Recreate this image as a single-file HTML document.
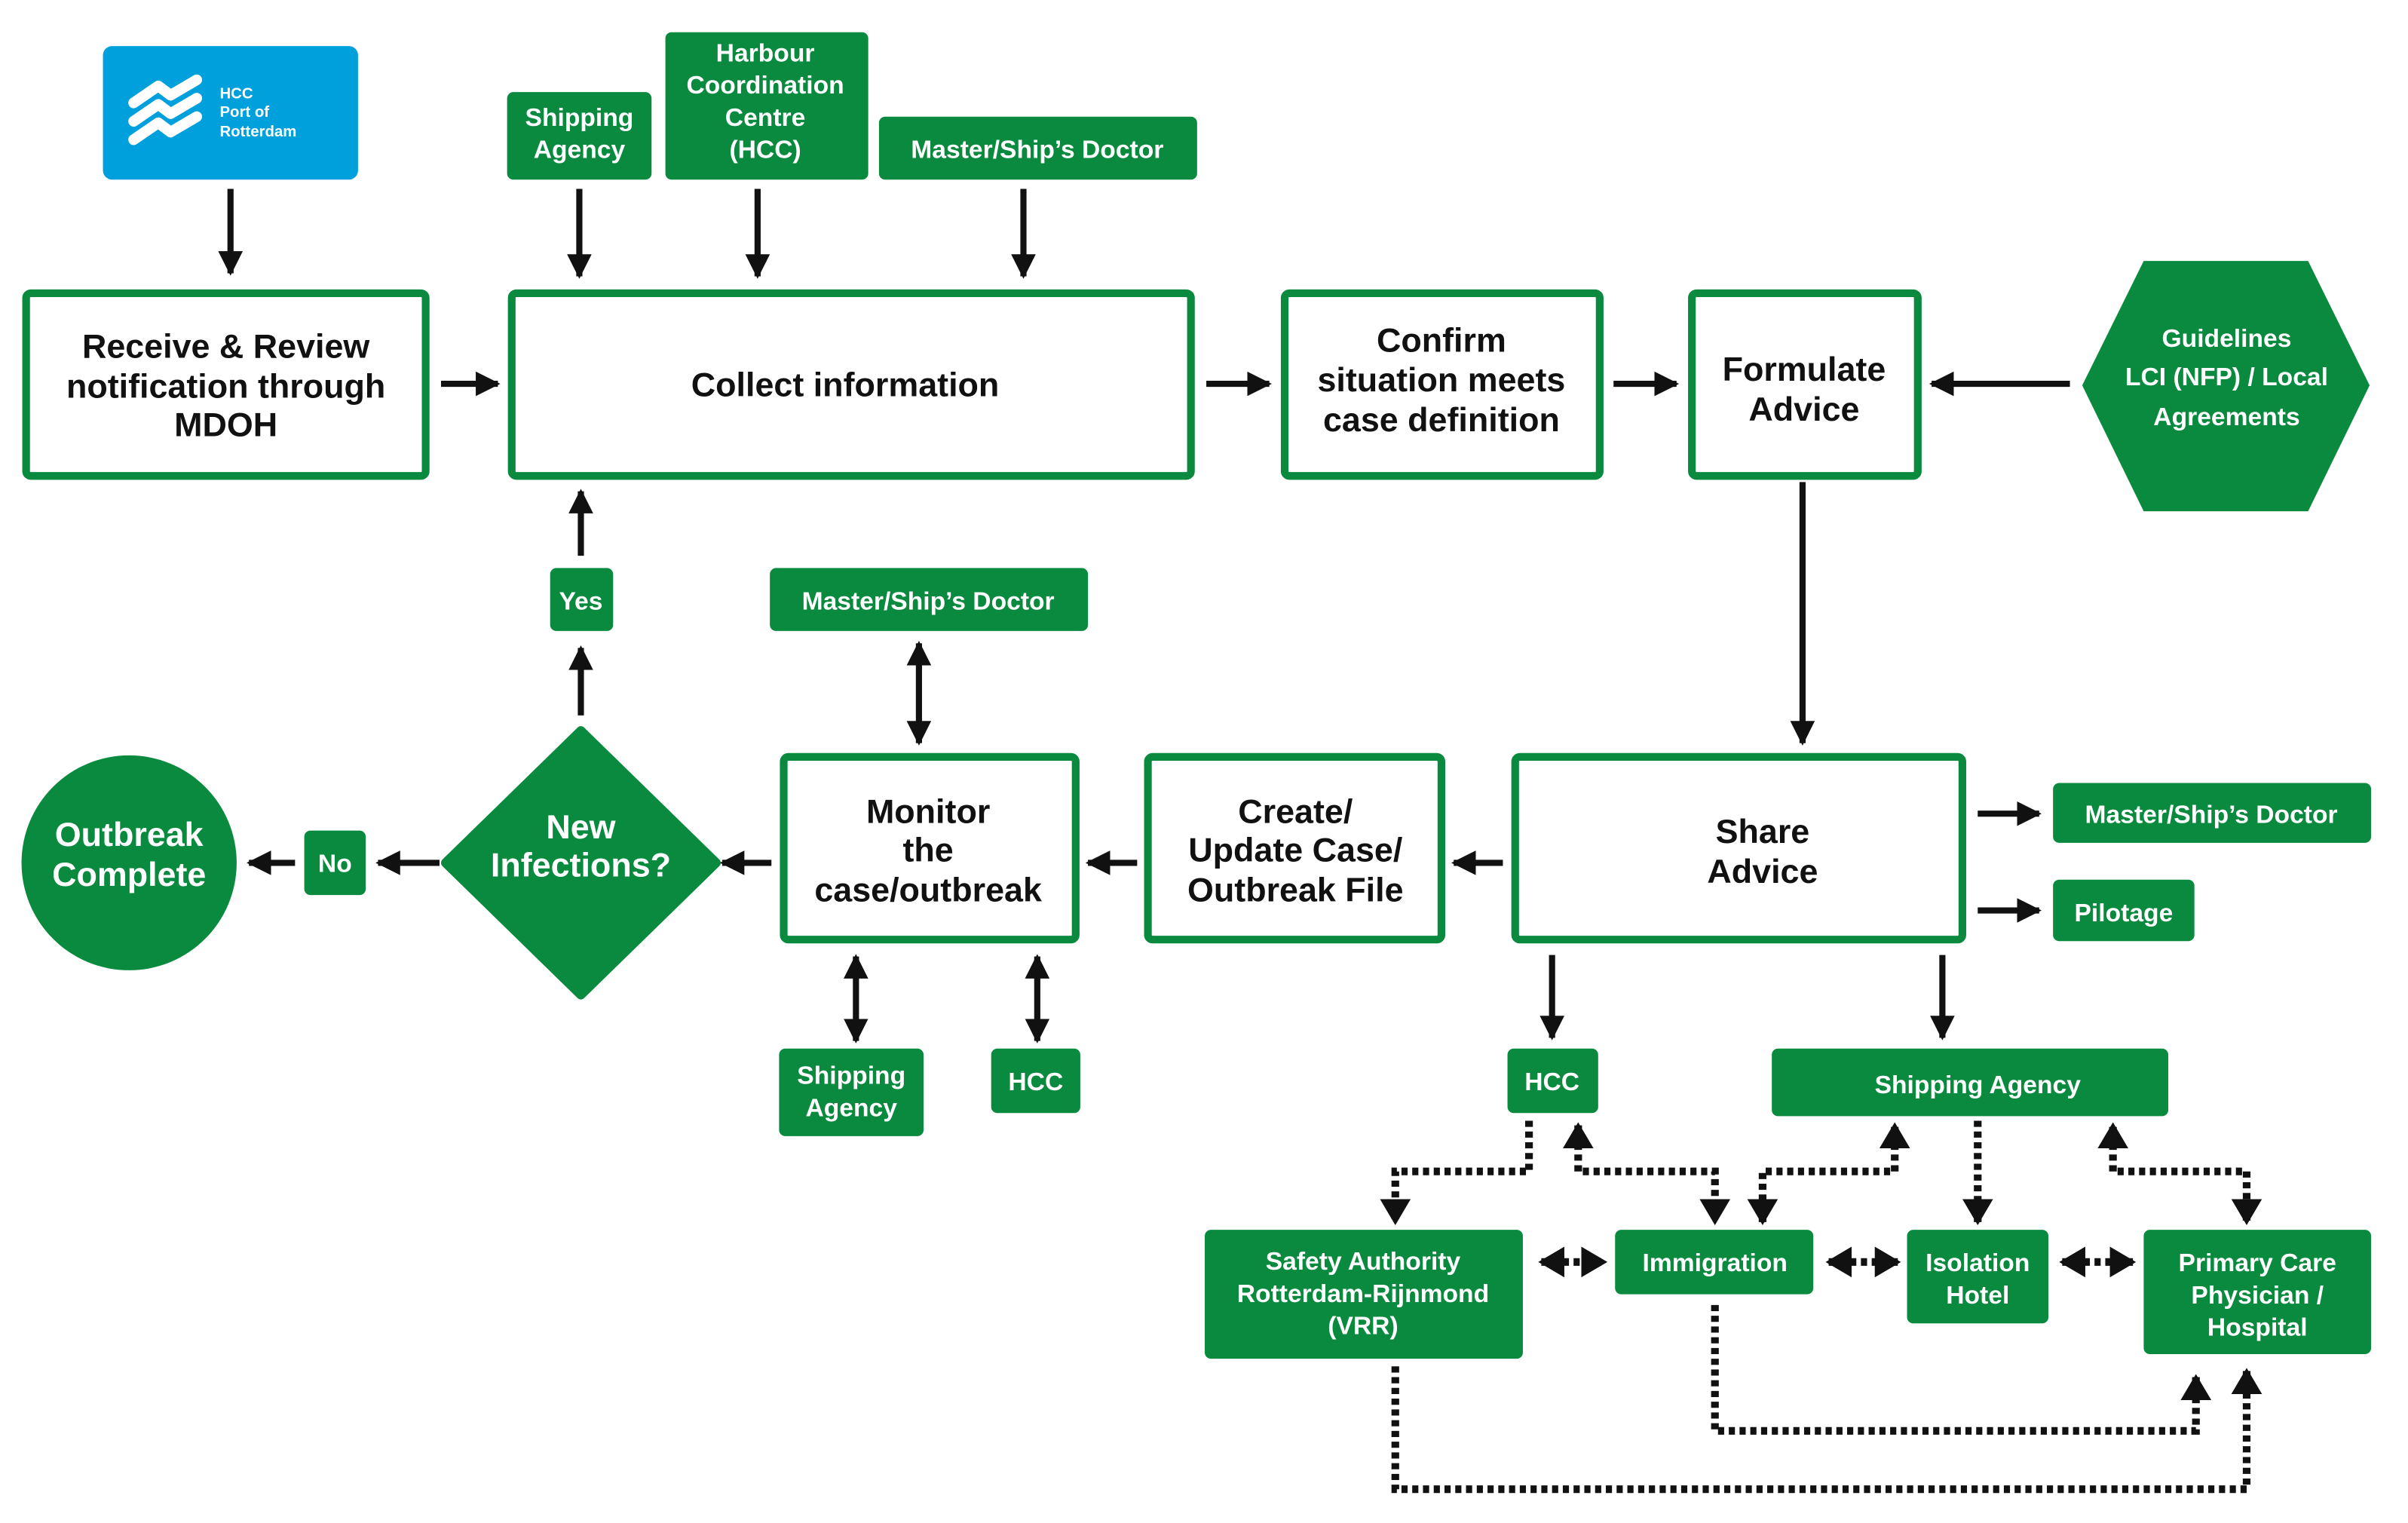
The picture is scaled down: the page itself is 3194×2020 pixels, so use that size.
<!DOCTYPE html>
<html><head><meta charset="utf-8"><style>
html,body{margin:0;padding:0;background:#fff}
svg{display:block}
text{font-family:"Liberation Sans",sans-serif;text-anchor:middle}
.b{font-weight:bold;fill:#111;font-size:22px}
.w{fill:#fff;font-size:16.5px;font-weight:bold}
</style></head><body>
<svg width="3194" height="2020" viewBox="0 0 1567 992" preserveAspectRatio="none" xmlns="http://www.w3.org/2000/svg">
<defs>
<marker id="a" markerWidth="4" markerHeight="4" refX="3.6" refY="2" orient="auto-start-reverse" markerUnits="strokeWidth"><path d="M0,0 L4,2 L0,4 z" fill="#111"/></marker>
<marker id="d" markerWidth="3.4" markerHeight="4" refX="3" refY="2" orient="auto-start-reverse" markerUnits="strokeWidth"><path d="M0,0 L3.4,2 L0,4 z" fill="#111"/></marker>
</defs>
<g fill="#fff" stroke="#0a8a3e" stroke-width="5">
<rect x="17" y="191" width="260" height="119" rx="3"/>
<rect x="333" y="191" width="442" height="119" rx="3"/>
<rect x="836" y="191" width="205" height="119" rx="3"/>
<rect x="1101" y="191" width="147" height="119" rx="3"/>
<rect x="986" y="493" width="291" height="119" rx="3"/>
<rect x="747" y="493" width="191" height="119" rx="3"/>
<rect x="510" y="493" width="190" height="119" rx="3"/>
</g>
<rect x="67" y="30" width="166" height="87" rx="6" fill="#00a0dc"/>
<g fill="none" stroke="#fff" stroke-width="7" stroke-linecap="round" stroke-linejoin="round">
<path d="M87,67 L103,56 L111,62 L128,52"/><path d="M87,79 L103,68 L111,74 L128,64"/><path d="M87,91 L103,80 L111,86 L128,76"/>
</g>
<g fill="#fff" font-size="10" font-weight="bold"><text x="143" y="64" style="text-anchor:start">HCC</text><text x="143" y="76" style="text-anchor:start">Port of</text><text x="143" y="89" style="text-anchor:start">Rotterdam</text></g>
<g fill="#0a8a3e">
<rect x="330" y="60" width="94" height="57" rx="4"/>
<rect x="433" y="21" width="132" height="96" rx="4"/>
<rect x="572" y="76" width="207" height="41" rx="4"/>
<polygon points="1395,170 1502,170 1542,251 1502,333 1395,333 1355,251"/>
<rect x="1336" y="510" width="207" height="39" rx="4"/>
<rect x="1336" y="573" width="92" height="40" rx="4"/>
<rect x="358" y="370" width="41" height="41" rx="4"/>
<rect x="501" y="370" width="207" height="41" rx="4"/>
<rect x="198" y="541" width="40" height="42" rx="4"/>
<polygon points="378,476 466,562 378,648 290,562" stroke="#0a8a3e" stroke-width="6" stroke-linejoin="round"/>
<circle cx="84" cy="562" r="70"/>
<rect x="507" y="683" width="94" height="57" rx="4"/>
<rect x="645" y="683" width="58" height="42" rx="4"/>
<rect x="981" y="683" width="59" height="42" rx="4"/>
<rect x="1153" y="683" width="258" height="44" rx="4"/>
<rect x="784" y="801" width="207" height="84" rx="4"/>
<rect x="1051" y="801" width="129" height="42" rx="4"/>
<rect x="1241" y="801" width="92" height="61" rx="4"/>
<rect x="1395" y="801" width="148" height="81" rx="4"/>
</g>
<g class="b">
<text x="147" y="233">Receive &amp; Review</text><text x="147" y="259">notification through</text><text x="147" y="284">MDOH</text>
<text x="550" y="258">Collect information</text>
<text x="938" y="229">Confirm</text><text x="938" y="255">situation meets</text><text x="938" y="281">case definition</text>
<text x="1174" y="248">Formulate</text><text x="1174" y="274">Advice</text>
<text x="1147" y="549">Share</text><text x="1147" y="575">Advice</text>
<text x="843" y="536">Create/</text><text x="843" y="561">Update Case/</text><text x="843" y="587">Outbreak File</text>
<text x="604" y="536">Monitor</text><text x="604" y="561">the</text><text x="604" y="587">case/outbreak</text>
</g>
<g class="w">
<text x="377" y="82">Shipping</text><text x="377" y="103">Agency</text>
<text x="498" y="40">Harbour</text><text x="498" y="61">Coordination</text><text x="498" y="82">Centre</text><text x="498" y="103">(HCC)</text>
<text x="675" y="103">Master/Ship’s Doctor</text>
<text x="1449" y="226">Guidelines</text><text x="1449" y="251">LCI (NFP) / Local</text><text x="1449" y="277">Agreements</text>
<text x="1439" y="536">Master/Ship’s Doctor</text>
<text x="1382" y="600">Pilotage</text>
<text x="378" y="397">Yes</text>
<text x="604" y="397">Master/Ship’s Doctor</text>
<text x="218" y="568">No</text>
<text x="378" y="546" font-size="22">New</text><text x="378" y="571" font-size="22">Infections?</text>
<text x="84" y="551" font-size="22">Outbreak</text><text x="84" y="577" font-size="22">Complete</text>
<text x="554" y="706">Shipping</text><text x="554" y="727">Agency</text>
<text x="674" y="710">HCC</text>
<text x="1010" y="710">HCC</text>
<text x="1287" y="712">Shipping Agency</text>
<text x="887" y="827">Safety Authority</text><text x="887" y="848">Rotterdam-Rijnmond</text><text x="887" y="869">(VRR)</text>
<text x="1116" y="828">Immigration</text>
<text x="1287" y="828">Isolation</text><text x="1287" y="849">Hotel</text>
<text x="1469" y="828">Primary Care</text><text x="1469" y="849">Physician /</text><text x="1469" y="870">Hospital</text>
</g>
<g stroke="#111" stroke-width="4" fill="none" marker-end="url(#a)">
<line x1="150" y1="123" x2="150" y2="178"/>
<line x1="377" y1="123" x2="377" y2="180"/>
<line x1="493" y1="123" x2="493" y2="180"/>
<line x1="666" y1="123" x2="666" y2="180"/>
<line x1="287" y1="250" x2="324" y2="250"/>
<line x1="785" y1="250" x2="826" y2="250"/>
<line x1="1050" y1="250" x2="1091" y2="250"/>
<line x1="1347" y1="250" x2="1257" y2="250"/>
<line x1="1173" y1="314" x2="1173" y2="484"/>
<line x1="1287" y1="530" x2="1327" y2="530"/>
<line x1="1287" y1="593" x2="1327" y2="593"/>
<line x1="978" y1="562" x2="946" y2="562"/>
<line x1="740" y1="562" x2="708" y2="562"/>
<line x1="502" y1="562" x2="470" y2="562"/>
<line x1="286" y1="562" x2="246" y2="562"/>
<line x1="192" y1="562" x2="162" y2="562"/>
<line x1="378" y1="466" x2="378" y2="422"/>
<line x1="378" y1="362" x2="378" y2="320"/>
<line x1="1010" y1="622" x2="1010" y2="676"/>
<line x1="1264" y1="622" x2="1264" y2="676"/>
<line x1="598" y1="419" x2="598" y2="484" marker-start="url(#a)"/>
<line x1="557" y1="623" x2="557" y2="678" marker-start="url(#a)"/>
<line x1="675" y1="623" x2="675" y2="678" marker-start="url(#a)"/>
</g>
<g stroke="#111" stroke-width="5" fill="none" stroke-dasharray="4 3" marker-end="url(#d)">
<polyline points="995,730 995,763 908,763 908,796"/>
<polyline points="1027,742 1027,733"/>
<polyline points="1027,745 1027,763 1116,763 1116,796"/>
<polyline points="1233,745 1233,733"/>
<polyline points="1233,745 1233,763 1147,763 1147,796"/>
<polyline points="1287,730 1287,796"/>
<polyline points="1375,745 1375,733"/>
<polyline points="1375,745 1375,763 1462,763 1462,796"/>
<polyline points="1116,850 1116,932 1429,932 1429,897"/>
<polyline points="908,890 908,970 1462,970 1462,893"/>
<line x1="1003" y1="822" x2="1044" y2="822" marker-start="url(#d)"/>
<line x1="1190" y1="822" x2="1235" y2="822" marker-start="url(#d)"/>
<line x1="1342" y1="822" x2="1388" y2="822" marker-start="url(#d)"/>
</g>
</svg>
</body></html>
